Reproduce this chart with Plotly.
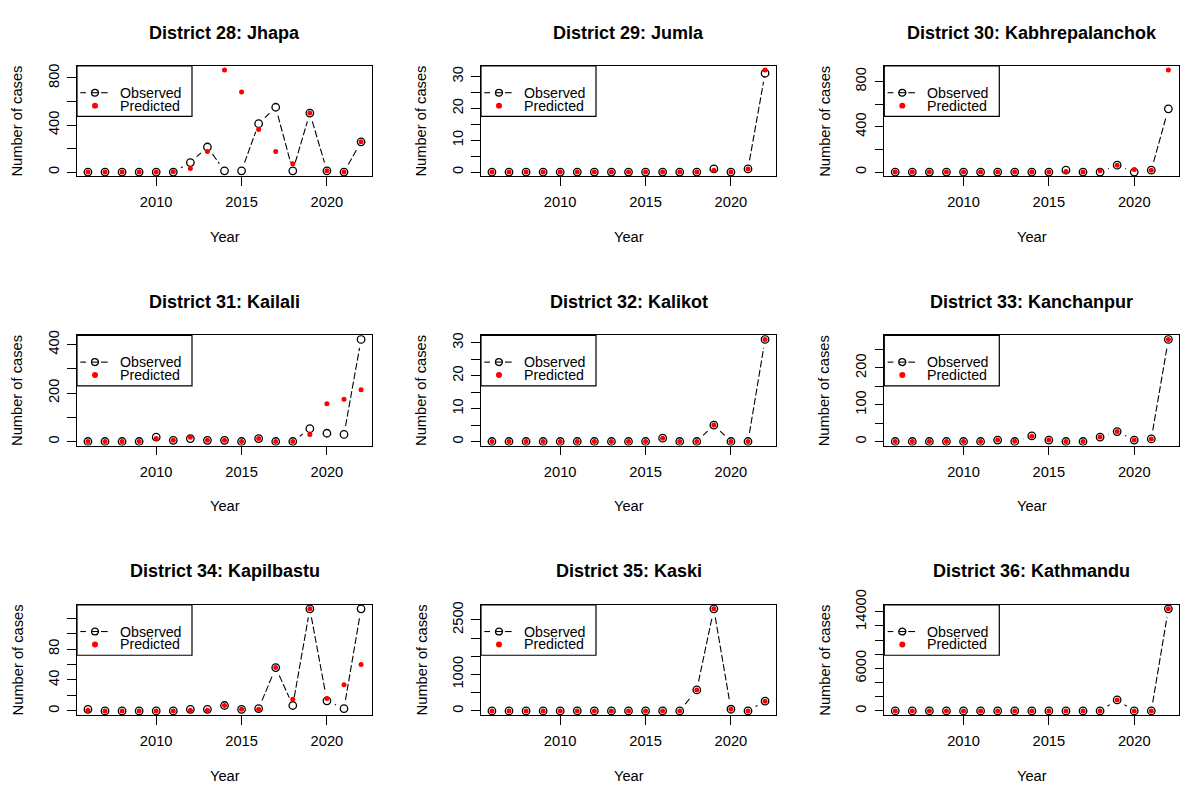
import math
import plotly.graph_objects as go

# ---- data -------------------------------------------------------------
years = [2006, 2007, 2008, 2009, 2010, 2011, 2012, 2013, 2014,
         2015, 2016, 2017, 2018, 2019, 2020, 2021, 2022]
x_ticks = [2010, 2015, 2020]

titles = ["District 28: Jhapa", "District 29: Jumla", "District 30: Kabhrepalanchok",
          "District 31: Kailali", "District 32: Kalikot", "District 33: Kanchanpur",
          "District 34: Kapilbastu", "District 35: Kaski", "District 36: Kathmandu"]

jhapa_obs = [0, 0, 0, 0, 0, 0, 81, 213, 11, 11, 411, 551, 11, 501, 11, 0, 257]
jhapa_pred = [0, 0, 0, 0, 0, 3, 31, 176, 867, 680, 361, 176, 70, 501, 11, 0, 257]
jumla_obs = [0, 0, 0, 0, 0, 0, 0, 0, 0, 0, 0, 0, 0, 1, 0, 1, 31]
jumla_pred = [0, 0, 0, 0, 0, 0, 0, 0, 0, 0, 0, 0, 0, 0.6, 0, 1, 32]
kabhre_obs = [0, 0, 0, 0, 0, 0, 0, 0, 0, 0, 17, 0, 0, 61, 0, 17, 559]
kabhre_pred = [0, 0, 0, 0, 0, 0, 0, 0, 0, 0, 6, 0, 12, 61, 23, 17, 901]
kailali_obs = [0, 0, 0, 0, 18, 5, 12, 5, 5, 0, 12, 0, 0, 53, 34, 29, 421]
kailali_pred = [0, 0, 0, 0, 12, 5, 18, 5, 5, 0, 12, 0, 0, 29, 156, 174, 214]
kalikot_obs = [0, 0, 0, 0, 0, 0, 0, 0, 0, 0, 1, 0, 0, 5, 0, 0, 31]
kalikot_pred = [0, 0, 0, 0, 0, 0, 0, 0, 0, 0, 1, 0, 0, 5, 0, 0, 31]
kanchanpur_obs = [0, 0, 0, 0, 0, 0, 4, 0, 15, 4, 0, 0, 12, 27, 4, 7, 277]
kanchanpur_pred = [0, 0, 0, 0, 0, 0, 4, 1, 14, 4, 0, 0, 12, 27, 4, 7, 277]
kapilbastu_obs = [2, 0, 0, 0, 0, 0, 2, 2, 7, 2, 3, 56, 7, 132, 13, 3, 132]
kapilbastu_pred = [1, 0, 0, 0, 0, 0, 1, 1, 7, 2, 2, 56, 15, 132, 16, 34, 60]
kaski_obs = [0, 0, 0, 0, 0, 0, 0, 0, 0, 0, 0, 0, 577, 2800, 46, 0, 266]
kaski_pred = [0, 0, 0, 0, 0, 0, 0, 0, 0, 0, 0, 0, 577, 2800, 46, 0, 266]
kathmandu_obs = [0, 0, 0, 0, 0, 0, 0, 0, 0, 0, 0, 0, 0, 1550, 0, 0, 14400]
kathmandu_pred = [0, 0, 0, 0, 0, 0, 0, 0, 0, 0, 0, 0, 0, 1550, 0, 0, 14400]

jhapa_yticks = [0, 200, 400, 600, 800]
jhapa_ylabels = ["0", "", "400", "", "800"]
jumla_yticks = [0, 5, 10, 15, 20, 25, 30]
jumla_ylabels = ["0", "", "10", "", "20", "", "30"]
kabhre_yticks = [0, 200, 400, 600, 800]
kabhre_ylabels = ["0", "", "400", "", "800"]
kailali_yticks = [0, 100, 200, 300, 400]
kailali_ylabels = ["0", "", "200", "", "400"]
kalikot_yticks = [0, 5, 10, 15, 20, 25, 30]
kalikot_ylabels = ["0", "", "10", "", "20", "", "30"]
kanchanpur_yticks = [0, 50, 100, 150, 200, 250]
kanchanpur_ylabels = ["0", "", "100", "", "200", ""]
kapilbastu_yticks = [0, 20, 40, 60, 80, 100, 120]
kapilbastu_ylabels = ["0", "", "40", "", "80", "", ""]
kaski_yticks = [0, 500, 1000, 1500, 2000, 2500]
kaski_ylabels = ["0", "", "1000", "", "", "2500"]
kathmandu_yticks = [0, 2000, 4000, 6000, 8000, 10000, 12000, 14000]
kathmandu_ylabels = ["0", "", "", "6000", "", "", "", "14000"]

panels = [
    (jhapa_obs, jhapa_pred, jhapa_yticks, jhapa_ylabels),
    (jumla_obs, jumla_pred, jumla_yticks, jumla_ylabels),
    (kabhre_obs, kabhre_pred, kabhre_yticks, kabhre_ylabels),
    (kailali_obs, kailali_pred, kailali_yticks, kailali_ylabels),
    (kalikot_obs, kalikot_pred, kalikot_yticks, kalikot_ylabels),
    (kanchanpur_obs, kanchanpur_pred, kanchanpur_yticks, kanchanpur_ylabels),
    (kapilbastu_obs, kapilbastu_pred, kapilbastu_yticks, kapilbastu_ylabels),
    (kaski_obs, kaski_pred, kaski_yticks, kaski_ylabels),
    (kathmandu_obs, kathmandu_pred, kathmandu_yticks, kathmandu_ylabels),
]

# ---- layout geometry (pixels) ----------------------------------------
FIG_W, FIG_H = 1184, 787
COL_LEFT = [77, 481, 884.3]
ROW_TOP = [51, 326, 601]
PANEL_W = 295
PANEL_H = 112.5
FONT = "Liberation Sans, Arial, sans-serif"
BASE = 14.7
LW = 1.2
GAP = 8.8  # blank space around each point on the connecting lines


def px(x):
    return x / FIG_W


def py(y):
    return 1 - y / FIG_H


def padded(lo, hi):
    d = hi - lo
    return [lo - 0.04 * d, hi + 0.04 * d]


def gapped_segments(xs, ys, xr, yr, w, h, gap):
    """Connecting segments shortened at both ends, like type='b' lines."""
    sx = w / (xr[1] - xr[0])
    sy = h / (yr[1] - yr[0])
    ox, oy = [], []
    for xa, ya, xb, yb in zip(xs, ys, xs[1:], ys[1:]):
        dist = math.hypot((xb - xa) * sx, (yb - ya) * sy)
        if dist <= 2 * gap:
            continue
        f = gap / dist
        ox += [xa + f * (xb - xa), xb - f * (xb - xa), None]
        oy += [ya + f * (yb - ya), yb - f * (yb - ya), None]
    return ox, oy


fig = go.Figure()
shapes = []
annotations = []
xr = padded(min(years), max(years))

for i, (obs, pred, yt, yl) in enumerate(panels):
    r, c = divmod(i, 3)
    L, T = COL_LEFT[c], ROW_TOP[r]
    yr = padded(min(obs + pred), max(obs + pred))
    sfx = "" if i == 0 else str(i + 1)
    xa, ya = "x" + sfx, "y" + sfx

    lx, ly = gapped_segments(years, obs, xr, yr, PANEL_W, PANEL_H, GAP)
    fig.add_trace(go.Scatter(x=lx, y=ly, mode="lines", xaxis=xa, yaxis=ya,
                             line=dict(color="black", width=1.1, dash="7px,2.5px"),
                             hoverinfo="skip", showlegend=False))
    fig.add_trace(go.Scatter(x=years, y=obs, mode="markers", xaxis=xa, yaxis=ya,
                             marker=dict(symbol="circle-open", size=7.5, color="black",
                                         line=dict(width=1.3, color="black")),
                             name="Observed", showlegend=False))
    fig.add_trace(go.Scatter(x=years, y=pred, mode="markers", xaxis=xa, yaxis=ya,
                             marker=dict(symbol="circle", size=5, color="#ff0000"),
                             name="Predicted", showlegend=False))

    axis_common = dict(showline=True, mirror=True, linecolor="black", linewidth=LW,
                       ticks="outside", ticklen=8.5, tickwidth=LW, tickcolor="black",
                       showgrid=False, zeroline=False, fixedrange=True,
                       tickfont=dict(family=FONT, size=BASE, color="black"))
    fig.update_layout(**{
        "xaxis" + sfx: dict(axis_common, domain=[px(L), px(L + PANEL_W)], range=xr,
                            anchor=ya, tickvals=x_ticks, ticklabelstandoff=4,
                            ticktext=[str(v) for v in x_ticks]),
        "yaxis" + sfx: dict(axis_common, domain=[py(T + PANEL_H), py(T)], range=yr,
                            anchor=xa, tickvals=yt, ticktext=yl, tickangle=-90,
                            ticklabelstandoff=3),
    })

    # panel title and axis titles
    annotations.append(dict(text=titles[i], x=px(L + PANEL_W / 2), y=py(T - 34),
                            xref="paper", yref="paper", showarrow=False,
                            xanchor="center", yanchor="middle",
                            font=dict(family=FONT, size=18, color="black", weight="bold")))
    annotations.append(dict(text="Year", x=px(L + PANEL_W / 2), y=py(T + PANEL_H + 62),
                            xref="paper", yref="paper", showarrow=False,
                            xanchor="center", yanchor="middle",
                            font=dict(family=FONT, size=BASE, color="black")))
    annotations.append(dict(text="Number of cases", x=px(L - 59.5), y=py(T + PANEL_H / 2),
                            xref="paper", yref="paper", showarrow=False, textangle=-90,
                            xanchor="center", yanchor="middle",
                            font=dict(family=FONT, size=BASE, color="black")))

    # legend box
    shapes.append(dict(type="rect", xref="paper", yref="paper",
                       x0=px(L), x1=px(L + 115), y0=py(T + 51.5), y1=py(T),
                       line=dict(color="black", width=LW)))
    yo = T + 27.3
    for a, b in [(L + 3.3, L + 9), (L + 14.5, L + 21.5), (L + 24, L + 30.7)]:
        shapes.append(dict(type="line", xref="paper", yref="paper",
                           x0=px(a), x1=px(b), y0=py(yo), y1=py(yo),
                           line=dict(color="black", width=1.1)))
    shapes.append(dict(type="circle", xref="paper", yref="paper",
                       x0=px(L + 14.5), x1=px(L + 21.5), y0=py(yo + 3.5), y1=py(yo - 3.5),
                       line=dict(color="black", width=1.3)))
    yp = T + 40.5
    shapes.append(dict(type="circle", xref="paper", yref="paper",
                       x0=px(L + 15), x1=px(L + 21), y0=py(yp + 3), y1=py(yp - 3),
                       fillcolor="#ff0000", line=dict(color="#ff0000", width=0)))
    for txt, yy in [("Observed", yo), ("Predicted", yp)]:
        annotations.append(dict(text=txt, x=px(L + 42), y=py(yy),
                                xref="paper", yref="paper", showarrow=False,
                                xanchor="left", yanchor="middle", borderpad=0,
                                font=dict(family=FONT, size=14.2, color="black")))

fig.update_layout(width=FIG_W, height=FIG_H, autosize=False,
                  margin=dict(l=0, r=0, t=0, b=0),
                  paper_bgcolor="white", plot_bgcolor="white",
                  showlegend=False, shapes=shapes, annotations=annotations)

fig.write_html("out.html")
